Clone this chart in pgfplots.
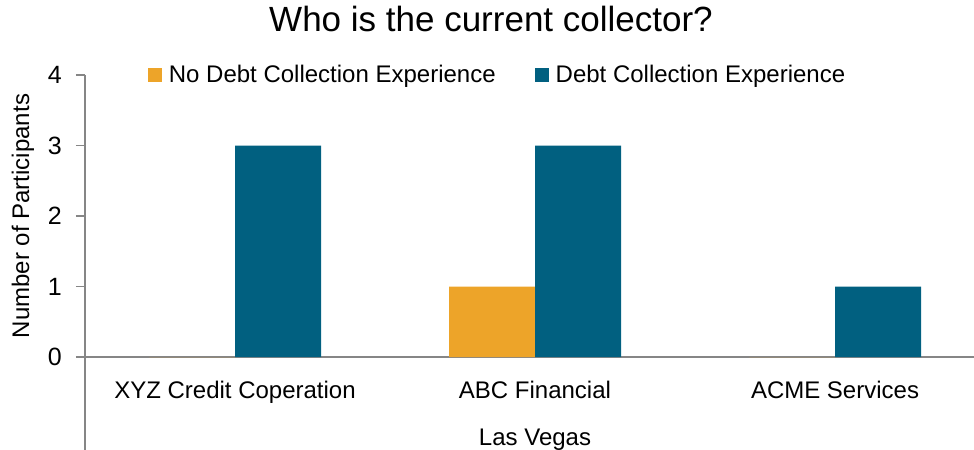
\documentclass[border=0pt]{standalone}
\usepackage{pgfplots}
\pgfplotsset{compat=1.18}
\usepackage{fontspec}
\setmainfont{Liberation Sans}
\definecolor{cOrange}{RGB}{237,164,41}
\definecolor{cBlue}{RGB}{1,96,128}
\definecolor{cAxis}{RGB}{134,134,134}
\begin{document}
\begin{tikzpicture}
\begin{axis}[
  at={(0,0)}, anchor=south west,
  scale only axis, width=889bp, height=375bp,
  xmin=-0.5, xmax=2.4633, ymin=-1.319, ymax=4,
  axis x line=middle, axis y line=left,
  hide obscured x ticks=false, hide obscured y ticks=false,
  axis line style={-, draw=cAxis, line width=1.5bp},
  ybar, bar width=86bp,
  xtick={0,1,2}, xticklabels={XYZ Credit Coperation, ABC Financial, ACME Services},
  xtick style={draw=none},
  ytick={0,1,2,3,4},
  tick align=outside, major tick length=9bp,
  ytick style={draw=cAxis, line width=1.5bp},
  /pgf/number format/assume math mode=true,
  tick label style={font=\fontsize{24bp}{28bp}\selectfont},
  xticklabel style={anchor=base, yshift=-32bp},
  yticklabel style={anchor=east, inner sep=0pt, xshift=-14bp, font=\fontsize{25bp}{28bp}\selectfont},
  ylabel={Number of Participants},
  ylabel style={at={(axis description cs:-0.0697,0.624)}, anchor=center, font=\fontsize{24bp}{28bp}\selectfont},
  xlabel={Las Vegas},
  xlabel style={at={(axis description cs:0.5062,0.0107)}, anchor=base, font=\fontsize{24bp}{28bp}\selectfont},
  title={Who is the current collector?},
  title style={at={(axis description cs:0.4567,1.1013)}, anchor=base, font=\fontsize{35bp}{40bp}\selectfont},
  legend columns=2,
  legend image code/.code={\fill[#1] (0bp,-7bp) rectangle (14bp,7bp);},
  legend style={at={(rel axis cs:0.4629,1.0013)}, anchor=center, draw=none, fill=none,
    inner sep=0pt, column sep=7bp, nodes={inner sep=0pt},
    font=\fontsize{24bp}{28bp}\selectfont,
    /tikz/every even column/.append style={column sep=39bp}},
]
\addplot[fill=cOrange, draw=none, bar shift=-43bp] coordinates {(0,0) (1,1) (2,0)};
\addlegendentry{No Debt Collection Experience}
\addplot[fill=cBlue, draw=none, bar shift=43bp] coordinates {(0,3) (1,3) (2,1)};
\addlegendentry{Debt Collection Experience}
\end{axis}
\pgfresetboundingbox
\useasboundingbox (-85bp,0) rectangle (889bp,450bp);
\end{tikzpicture}
\end{document}
